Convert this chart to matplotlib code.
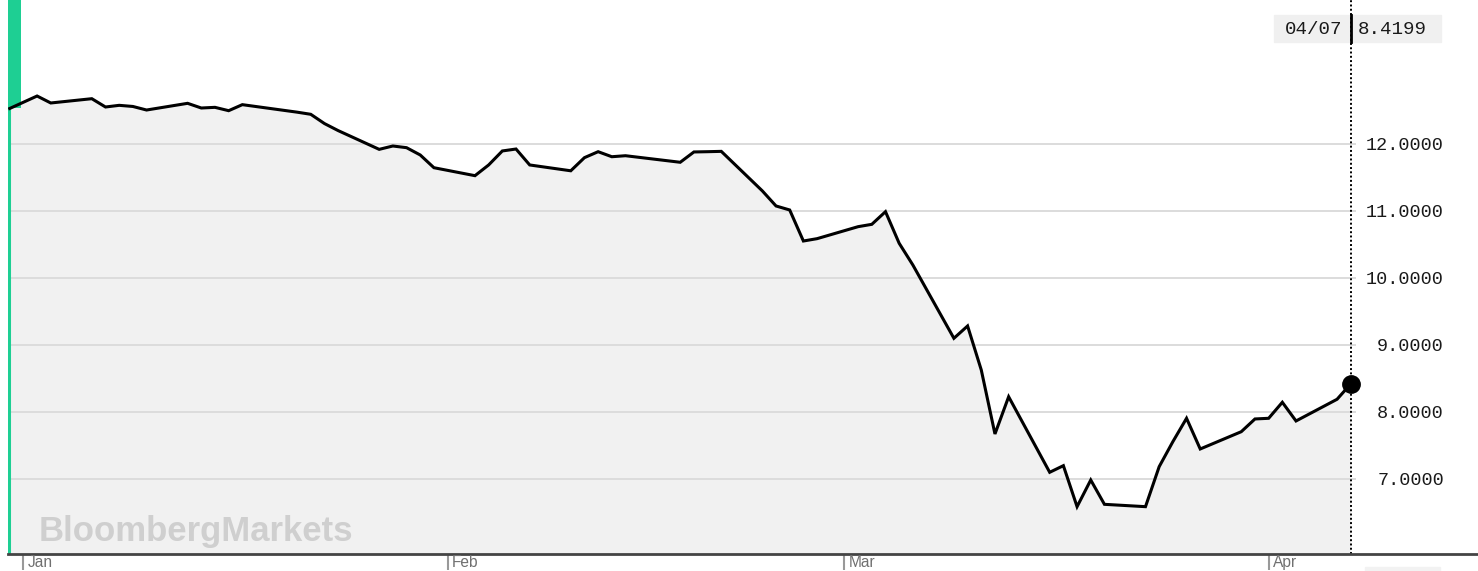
import numpy as np
import pandas as pd
import matplotlib
matplotlib.use("Agg")
import matplotlib.pyplot as plt
import matplotlib.dates as mdates
from matplotlib.patches import Rectangle

# trading days and closing values
dates = [
    "2019-12-31", "2020-01-02", "2020-01-03", "2020-01-06", "2020-01-07",
    "2020-01-08", "2020-01-09", "2020-01-10", "2020-01-13", "2020-01-14",
    "2020-01-15", "2020-01-16", "2020-01-17", "2020-01-21", "2020-01-22",
    "2020-01-23", "2020-01-24", "2020-01-27", "2020-01-28", "2020-01-29",
    "2020-01-30", "2020-01-31", "2020-02-03", "2020-02-04", "2020-02-05",
    "2020-02-06", "2020-02-07", "2020-02-10", "2020-02-11", "2020-02-12",
    "2020-02-13", "2020-02-14", "2020-02-18", "2020-02-19", "2020-02-20",
    "2020-02-21", "2020-02-24", "2020-02-25", "2020-02-26", "2020-02-27",
    "2020-02-28", "2020-03-02", "2020-03-03", "2020-03-04", "2020-03-05",
    "2020-03-06", "2020-03-09", "2020-03-10", "2020-03-11", "2020-03-12",
    "2020-03-13", "2020-03-16", "2020-03-17", "2020-03-18", "2020-03-19",
    "2020-03-20", "2020-03-23", "2020-03-24", "2020-03-25", "2020-03-26",
    "2020-03-27", "2020-03-30", "2020-03-31", "2020-04-01", "2020-04-02",
    "2020-04-03", "2020-04-06", "2020-04-07",
]
values = [
    12.53, 12.716, 12.612, 12.676, 12.552,
    12.577, 12.56, 12.507, 12.607, 12.537,
    12.547, 12.497, 12.587, 12.475, 12.443,
    12.305, 12.20, 11.92, 11.97, 11.945,
    11.836, 11.646, 11.527, 11.687, 11.896,
    11.925, 11.687, 11.60, 11.796, 11.885,
    11.81, 11.825, 11.727, 11.881, 11.885,
    11.89, 11.30, 11.075, 11.015, 10.552,
    10.587, 10.766, 10.801, 10.99, 10.518,
    10.194, 9.10, 9.284, 8.627, 7.672,
    8.228, 7.10, 7.199, 6.587, 6.985,
    6.622, 6.587, 7.184, 7.557, 7.906,
    7.448, 7.706, 7.896, 7.906, 8.145,
    7.866, 8.190, 8.4199,
]
grid_levels = [7, 8, 9, 10, 11, 12]
month_ticks = ["2020-01-01", "2020-02-01", "2020-03-01", "2020-04-01"]
month_labels = ["Jan", "Feb", "Mar", "Apr"]

GREEN = "#1ecf93"
W, H = 1478, 571

fig = plt.figure(figsize=(W / 100, H / 100), dpi=100)
ax = fig.add_axes([8 / W, 17 / H, 1470 / W, 554 / H])

x = pd.to_datetime(dates)
y = np.array(values)
ymin, ymax = 5.8806, 14.149

ax.fill_between(x, y, ymin, color="#f1f1f1", lw=0, zorder=0.5)
ax.hlines(grid_levels, x[0], x[-1] + pd.Timedelta(hours=10),
          color="#dcdcdc", lw=1.4, zorder=1)
ax.plot(x, y, color="black", lw=2.2, zorder=3, solid_joinstyle="miter")
ax.plot(x[-1], y[-1], "o", ms=12.5, color="black", zorder=4)

ax.set_xlim(x[0] - pd.Timedelta(hours=3), x[0] + pd.Timedelta(days=1470 / 13.7))
ax.set_ylim(ymin, ymax)

# green start marker
x0 = mdates.date2num(x[0])
ax.add_patch(Rectangle((x0 - 0.07, y[0]), 0.88, ymax - y[0],
                       color=GREEN, lw=0, zorder=2))
ax.axvline(x[0] - pd.Timedelta(hours=2), color=GREEN, lw=2.2, zorder=2)

# dotted cursor line on last point
ax.axvline(x[-1], color="black", lw=1.4, ls=(0, (1, 1.2)), zorder=2)

for s in ["top", "left", "right"]:
    ax.spines[s].set_visible(False)
ax.spines["bottom"].set_color("#444444")
ax.spines["bottom"].set_linewidth(2)

ax.set_xticks(pd.to_datetime(month_ticks))
ax.set_xticklabels([])
ax.tick_params(axis="x", length=11.5, width=1.5, color="#999999")
for d, lab in zip(pd.to_datetime(month_ticks), month_labels):
    ax.text(d + pd.Timedelta(hours=8), -0.0145, lab, transform=ax.get_xaxis_transform(),
            ha="left", va="center", fontsize=11.2, color="#707070",
            family="Liberation Sans")

ax.yaxis.tick_right()
ax.set_yticks(grid_levels)
ax.set_yticklabels(["%.4f" % v for v in grid_levels])
ax.tick_params(axis="y", length=0, pad=-24.5, labelsize=13.3, labelcolor="#1a1a1a")
for lbl in ax.get_yticklabels():
    lbl.set_ha("right")
    lbl.set_family("Liberation Mono")

# readout box for last point
ax.add_patch(Rectangle((1274 / W, (H - 42) / H), 167 / W, 27 / H,
                       transform=fig.transFigure, color="#f0f0f0", zorder=1.5,
                       clip_on=False))
ax.axvline(x[-1], ymin=(554 - 42) / 554, ymax=(554 - 15) / 554, color="black", lw=2, zorder=5)
fig.text(1342 / W, (H - 29) / H, x[-1].strftime("%m/%d"), ha="right", va="center",
         fontsize=13.8, family="Liberation Mono", color="#1a1a1a")
fig.text(1358 / W, (H - 29) / H, "%.4f" % y[-1], ha="left", va="center",
         fontsize=13.8, family="Liberation Mono", color="#1a1a1a")

fig.text(39 / W, (H - 541) / H, "BloombergMarkets", fontsize=25, fontweight="bold",
         color="#cfcfcf", family="Liberation Sans", va="baseline", zorder=2)

fig.patches.append(Rectangle((1365 / W, 0), 75 / W, 4 / H,
                             transform=fig.transFigure, color="#f2f2f2", zorder=0))

fig.savefig("out.png", dpi=100)
